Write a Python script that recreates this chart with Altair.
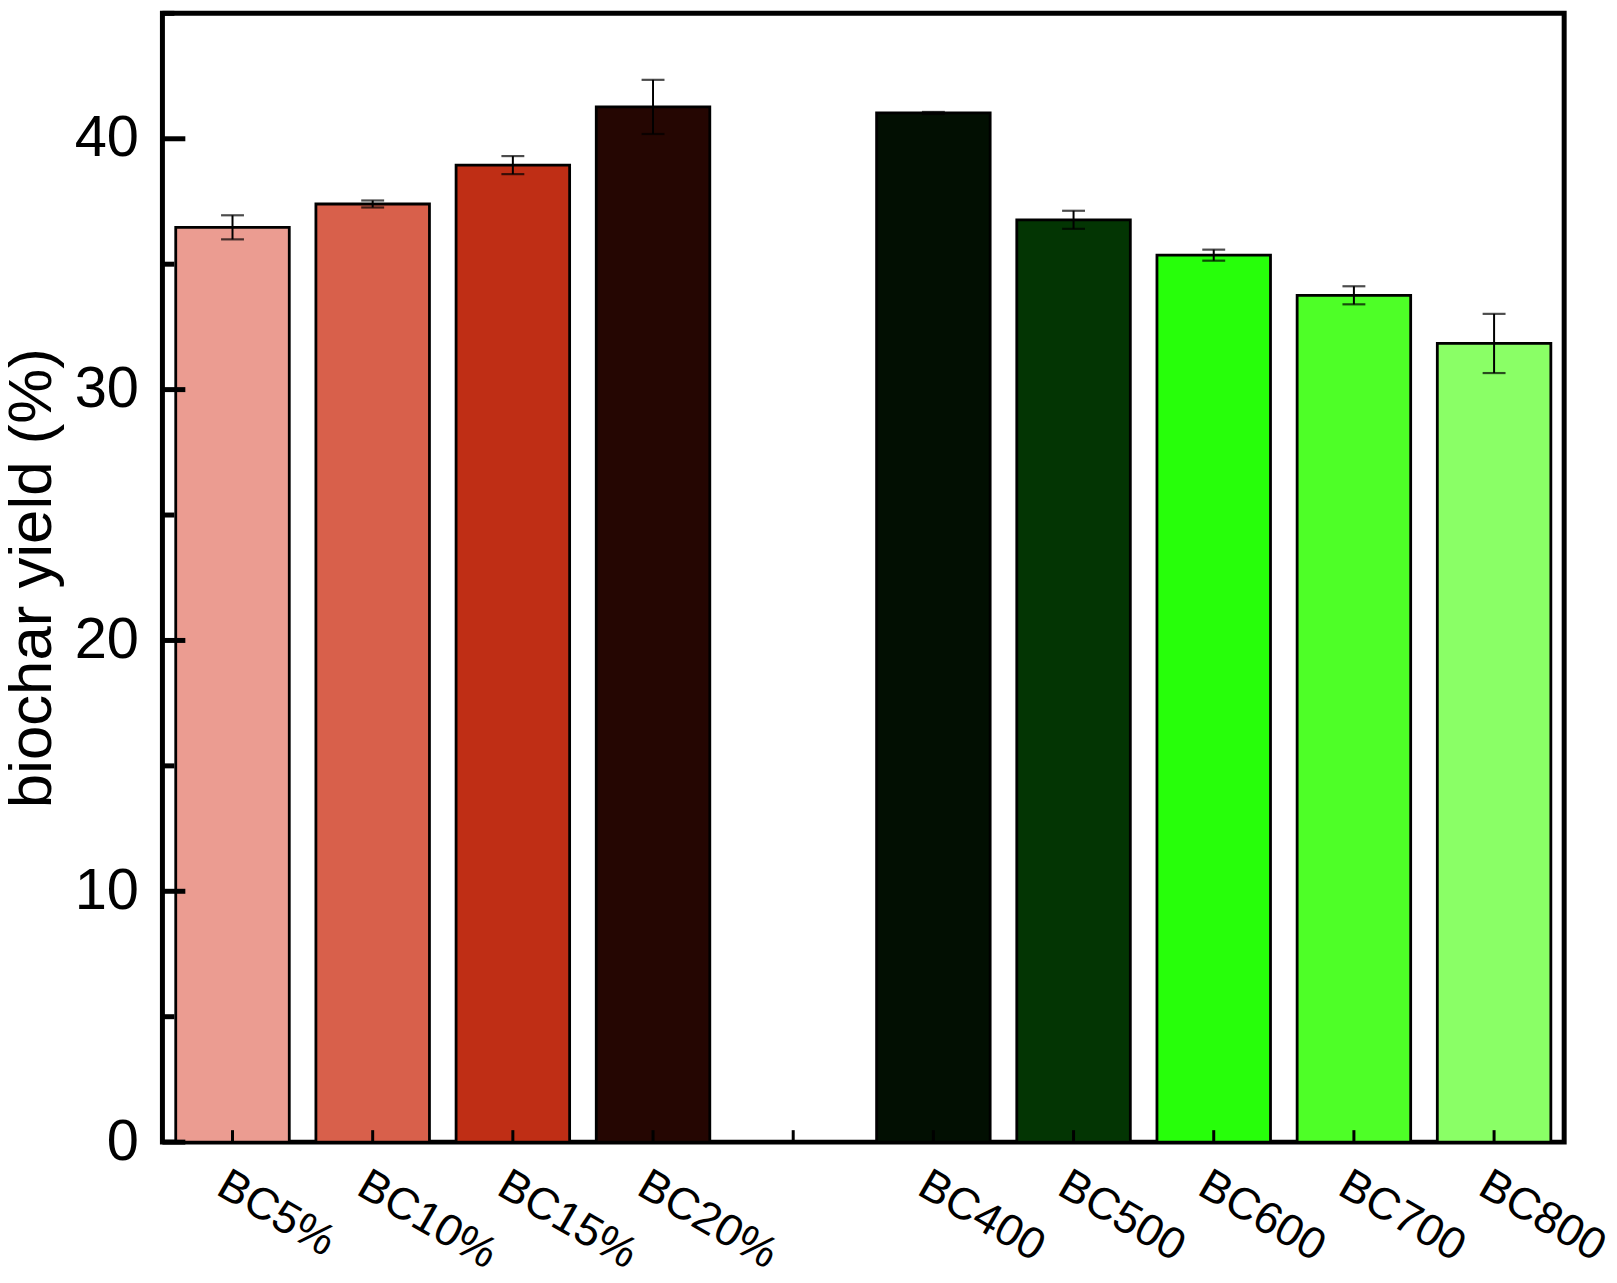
import altair as alt
import pandas as pd

categories = ["BC5%", "BC10%", "BC15%", "BC20%", "BC400", "BC500", "BC600", "BC700", "BC800"]
slots = ["BC5%", "BC10%", "BC15%", "BC20%", " ", "BC400", "BC500", "BC600", "BC700", "BC800"]
yields = [36.47, 37.4, 38.95, 41.27, 41.03, 36.77, 35.36, 33.76, 31.84]
errors = [0.48, 0.14, 0.36, 1.08, 0.04, 0.36, 0.22, 0.36, 1.18]
colors = ["#EB9C91", "#D8604B", "#BF2E15", "#250602", "#020F02", "#033503", "#27FF0A", "#4EFF27", "#8AFF66"]
major_ticks = [0, 10, 20, 30, 40]
minor_ticks = [5, 15, 25, 35, 45]

W, H = 1407, 1133
FONT = "Liberation Sans"
YTITLE = "biochar yield (%)"

bars_df = pd.DataFrame({
    "cat": categories,
    "yield": yields,
    "lo": [v - e for v, e in zip(yields, errors)],
    "hi": [v + e for v, e in zip(yields, errors)],
})
caps_df = pd.DataFrame({
    "cat": categories + categories,
    "yield": list(bars_df["lo"]) + list(bars_df["hi"]),
})
major_df = pd.DataFrame({"yield": major_ticks})
minor_df = pd.DataFrame({"yield": minor_ticks})
xt_df = pd.DataFrame({"cat": slots})

xscale = alt.Scale(domain=slots, paddingInner=0.19, paddingOuter=0.095)
yscale = alt.Scale(domain=[0, 45], nice=False)

xaxis = alt.Axis(labelAngle=30, labelAlign="left", labelBaseline="top", labelFontSize=45,
                 labelFont=FONT, labelColor="black", ticks=False, tickSize=0, domain=False,
                 labelPadding=20, grid=False, labelLimit=400)
yaxis = alt.Axis(values=major_ticks, labelFontSize=58, labelFont=FONT, labelColor="black",
                 labelPadding=24, ticks=False, tickSize=0, domain=False, grid=False,
                 titleFontSize=62, titleFont=FONT, titleFontWeight="normal", titleColor="black",
                 titlePadding=11)

bars = alt.Chart(bars_df).mark_bar(stroke="black", strokeWidth=2.8).encode(
    x=alt.X("cat:N", scale=xscale, axis=xaxis, title=None),
    y=alt.Y("yield:Q", scale=yscale, axis=yaxis, title=YTITLE),
    color=alt.Color("cat:N", scale=alt.Scale(domain=categories, range=colors), legend=None),
)

err = alt.Chart(bars_df).mark_rule(color="black", strokeWidth=2).encode(
    x=alt.X("cat:N", title=None),
    y=alt.Y("lo:Q", title=YTITLE),
    y2="hi:Q",
)

caps = alt.Chart(caps_df).mark_tick(color="black", orient="horizontal", size=23, thickness=2.2).encode(
    x=alt.X("cat:N", title=None),
    y=alt.Y("yield:Q", title=YTITLE),
)

ymaj = alt.Chart(major_df).mark_rule(color="black", strokeWidth=5).encode(
    y=alt.Y("yield:Q", title=YTITLE), x=alt.value(0), x2=alt.value(23)
)
ymin = alt.Chart(minor_df).mark_rule(color="black", strokeWidth=5).encode(
    y=alt.Y("yield:Q", title=YTITLE), x=alt.value(0), x2=alt.value(12)
)
xticks = alt.Chart(xt_df).mark_rule(color="black", strokeWidth=3).encode(
    x=alt.X("cat:N", title=None), y=alt.value(H), y2=alt.value(H - 12)
)

chart = alt.layer(bars, err, caps, ymaj, ymin, xticks).properties(
    width=W, height=H,
    autosize=alt.AutoSizeParams(type="none"),
    padding={"left": 155, "top": 3, "right": 45, "bottom": 131},
).configure(font=FONT).configure_view(stroke="black", strokeWidth=5)

chart.save("out.html", embed_options={"renderer": "svg", "actions": False})
